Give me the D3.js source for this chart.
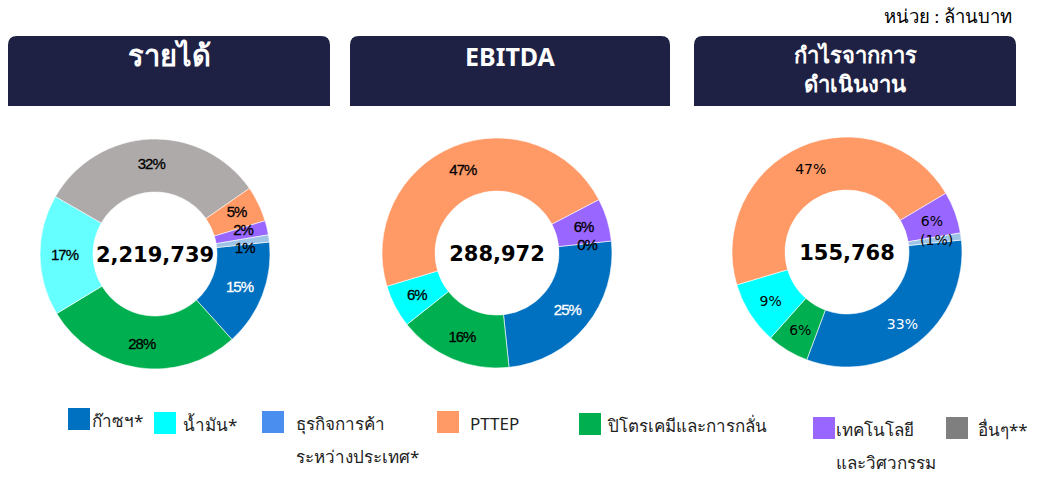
<!DOCTYPE html>
<html>
<head>
<meta charset="utf-8">
<script src="https://cdn.jsdelivr.net/npm/d3@7"></script>
<style>
  body { margin: 0; background: #fff; }
  svg { display: block; }
</style>
</head>
<body>
<div id="chart"></div>
<script>
// segment keys, in the order they go round each donut (clockwise)
const segments = ["gas", "petro", "oil", "other", "pttep", "tech", "trading"];

// percent shares (trading is negative in the third one)
const revenueShares = [15, 28, 17, 32, 5, 2, 1];
const ebitdaShares = [25, 16, 6, 0, 47, 6, 0];
const opProfitShares = [33, 6, 9, 0, 47, 6, -1];

const totals = ["2,219,739", "288,972", "155,768"];
const titles = [["รายได้"], ["EBITDA"], ["กำไรจากการ", "ดำเนินงาน"]];

const sliceColors = {
  gas: "#0070c0", petro: "#00b050", oil: "#00ffff", other: "#aeaaaa",
  pttep: "#ff9966", tech: "#9966ff", trading: "#9dc3e6"
};

// legend
const legendKeys = ["gas", "oil", "trading", "pttep", "petro", "tech", "other"];
const legendLabels = [["ก๊าซฯ*"], ["น้ำมัน*"], ["ธุรกิจการค้า", "ระหว่างประเทศ*"], ["PTTEP"],
  ["ปิโตรเคมีและการกลั่น"], ["เทคโนโลยี", "และวิศวกรรม"], ["อื่นๆ**"]];
const legendColors = ["#0070c0", "#00ffff", "#4a8ff0", "#ff9966", "#00b050", "#9966ff", "#7f7f7f"];

const width = 1043, height = 481;
const svg = d3.select("#chart").append("svg")
  .attr("width", width).attr("height", height);

const thaiFont = "Tahoma, 'Noto Sans', 'DejaVu Sans', sans-serif";

svg.append("text")
  .attr("x", 1012).attr("y", 23)
  .attr("text-anchor", "end")
  .style("font-family", "'Liberation Serif', serif")
  .style("font-size", "18.5px")
  .text("หน่วย : ล้านบาท");

const panels = [
  {shares: revenueShares, cx: 155, cy: 254, box: [8, 330], oilColor: "#66ffff", labelFont: "'Liberation Sans', Arial, sans-serif", titleSize: 29},
  {shares: ebitdaShares, cx: 497, cy: 253, box: [350, 670], oilColor: null, labelFont: "'Liberation Sans', Arial, sans-serif", titleSize: 25},
  {shares: opProfitShares, cx: 847, cy: 252, box: [694, 1016], oilColor: null, labelFont: "'DejaVu Sans', Verdana, sans-serif", titleSize: 22}
];

const outerR = 115, innerR = 62;
const arc = d3.arc().innerRadius(innerR).outerRadius(outerR);
const labelArc = d3.arc().innerRadius((innerR + outerR) / 2 + 2).outerRadius((innerR + outerR) / 2 + 2);

function headerPath(x0, x1, y0, y1, r) {
  return "M" + x0 + "," + y1 + " L" + x0 + "," + (y0 + r) +
    " Q" + x0 + "," + y0 + " " + (x0 + r) + "," + y0 +
    " L" + (x1 - r) + "," + y0 + " Q" + x1 + "," + y0 + " " + x1 + "," + (y0 + r) +
    " L" + x1 + "," + y1 + " Z";
}

panels.forEach(function(p, i) {
  // header box
  svg.append("path")
    .attr("d", headerPath(p.box[0], p.box[1], 36, 106, 9))
    .attr("fill", "#1e2044");

  const midX = (p.box[0] + p.box[1]) / 2;
  const lines = titles[i];
  lines.forEach(function(t, j) {
    svg.append("text")
      .attr("x", midX)
      .attr("y", lines.length === 1 ? 66 : 63 + j * 29)
      .attr("text-anchor", "middle")
      .attr("fill", "#fff")
      .style("font-family", thaiFont)
      .style("font-weight", "bold")
      .style("font-size", p.titleSize + "px")
      .text(t);
  });

  const data = segments.map(function(k, j) {
    return {key: k, value: p.shares[j]};
  });

  const pie = d3.pie()
    .sort(null)
    .value(function(d) { return Math.abs(d.value); })
    .startAngle(84 * Math.PI / 180)
    .endAngle(84 * Math.PI / 180 + 2 * Math.PI);

  const arcs = pie(data);
  const g = svg.append("g").attr("transform", "translate(" + p.cx + "," + p.cy + ")");

  g.selectAll("path.slice")
    .data(arcs.filter(function(d) { return d.value > 0; }))
    .join("path")
    .attr("class", "slice")
    .attr("d", arc)
    .attr("fill", function(d) {
      if (d.data.key === "oil" && p.oilColor) return p.oilColor;
      return sliceColors[d.data.key];
    })
    .attr("stroke", "#fff")
    .attr("stroke-width", 0.6);

  // label positions: centroid, then nudge apart the crowded small ones
  const shown = arcs.filter(function(d) { return d.data.key !== "other" || d.value > 0; });
  const labels = shown.map(function(d) {
    const c = labelArc.centroid(d);
    return {d: d, x: c[0], y: c[1]};
  });
  for (let it = 0; it < 30; it++) {
    for (let a = 0; a < labels.length; a++) {
      for (let b = a + 1; b < labels.length; b++) {
        const la = labels[a], lb = labels[b];
        const dy = lb.y - la.y;
        if (Math.abs(lb.x - la.x) < 30 && Math.abs(dy) < 18) {
          const push = (18 - Math.abs(dy)) / 2;
          const s = dy >= 0 ? 1 : -1;
          lb.y += s * push;
          la.y -= s * push;
        }
      }
    }
  }

  const labelColor = function(l) { return l.d.data.key === "gas" ? "#fff" : "#000"; };

  g.selectAll("text.pct")
    .data(labels)
    .join("text")
    .attr("class", "pct")
    .attr("x", function(l) { return l.x; })
    .attr("y", function(l) { return l.y; })
    .attr("dy", "0.36em")
    .attr("text-anchor", "middle")
    .attr("fill", labelColor)
    .attr("stroke", i < 2 ? labelColor : "none")
    .attr("stroke-width", 0.3)
    .style("font-family", p.labelFont)
    .style("font-size", i < 2 ? "15px" : "14px")
    .style("letter-spacing", i < 2 ? "-1px" : "0px")
    .text(function(l) {
      const v = l.d.data.value;
      return v < 0 ? "(" + Math.abs(v) + "%)" : v + "%";
    });

  g.append("text")
    .attr("x", 0).attr("y", 0)
    .attr("dy", "0.36em")
    .attr("text-anchor", "middle")
    .style("font-family", "'DejaVu Sans', Verdana, sans-serif")
    .style("font-weight", "bold")
    .style("font-size", "21px")
    .text(totals[i]);
});

// legend
const legendX = d3.scaleOrdinal()
  .domain(legendKeys)
  .range([68, 154, 262, 437, 579, 813, 946]);
const legendY = [408, 412, 411, 411, 413, 417, 417];
const labelGap = [24, 29, 34, 33, 29, 23, 32];

const leg = svg.append("g");
legendKeys.forEach(function(k, i) {
  leg.append("rect")
    .attr("x", legendX(k)).attr("y", legendY[i])
    .attr("width", 22).attr("height", 22)
    .attr("fill", legendColors[i]);
  legendLabels[i].forEach(function(t, j) {
    leg.append("text")
      .attr("x", legendX(k) + labelGap[i])
      .attr("y", legendY[i] + 19 + j * 33)
      .style("font-family", thaiFont)
      .style("font-size", "17px")
      .attr("fill", "#222")
      .text(t);
  });
});
</script>
</body>
</html>
